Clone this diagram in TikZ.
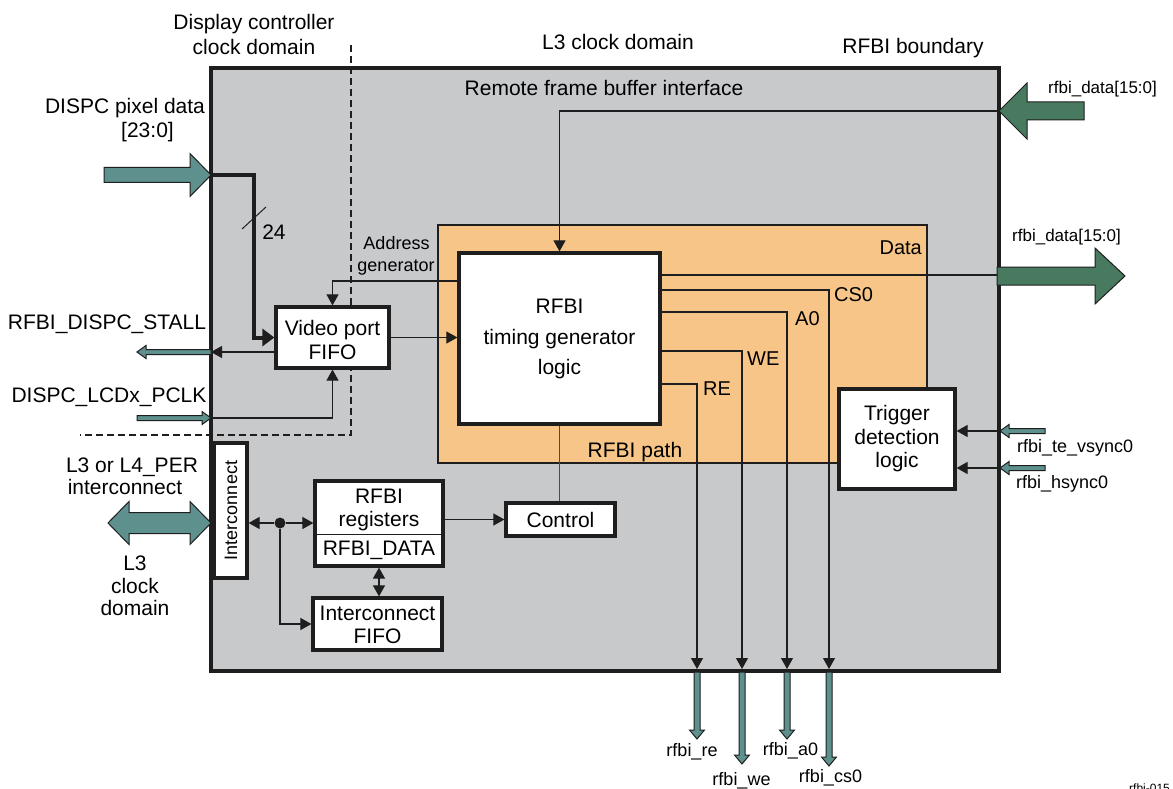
\documentclass[tikz,border=0pt]{standalone}
\usepackage{fontspec}
\setmainfont{Liberation Sans}
\usetikzlibrary{arrows.meta}
\definecolor{bggray}{RGB}{200,201,203}
\definecolor{orng}{RGB}{247,197,135}
\definecolor{tealA}{RGB}{94,145,142}
\definecolor{dgreen}{RGB}{71,122,94}
\definecolor{ink}{RGB}{30,30,30}
% horizontal block arrow: x-start, x-headbase, x-tip, y, shaft half, head half, colour
\newcommand\hArrow[7]{%
 \filldraw[fill=#7, draw=ink, line width=1pt, line join=miter]
   ({#1},{#4-#5}) -- ({#2},{#4-#5}) -- ({#2},{#4-#6}) -- ({#3},{#4}) --
   ({#2},{#4+#6}) -- ({#2},{#4+#5}) -- ({#1},{#4+#5}) -- cycle;}
% vertical block arrow: y-start, y-headbase, y-tip, x, shaft half, head half, colour
\newcommand\vArrow[7]{%
 \filldraw[fill=#7, draw=ink, line width=1pt, line join=miter]
   ({#4-#5},{#1}) -- ({#4-#5},{#2}) -- ({#4-#6},{#2}) -- ({#4},{#3}) --
   ({#4+#6},{#2}) -- ({#4+#5},{#2}) -- ({#4+#5},{#1}) -- cycle;}
\tikzset{
 lab/.style={inner sep=0pt, text height=15pt, text depth=0pt, font=\fontsize{21}{24}\selectfont},
 mid/.style={inner sep=0pt, text height=14.4pt, text depth=0pt, font=\fontsize{20}{23}\selectfont},
 sm/.style={inner sep=0pt, text height=13pt, text depth=0pt, font=\fontsize{18}{21}\selectfont},
 xs/.style={inner sep=0pt, text height=12.2pt, text depth=0pt, font=\fontsize{17}{20}\selectfont},
 box/.style={draw=ink, fill=white, line width=3.2pt, inner sep=0pt},
 conn/.style={draw=ink, line width=1.1pt},
 tri/.style={-{Triangle[length=11pt,width=12pt]}},
 tritri/.style={{Triangle[length=11pt,width=12pt]}-{Triangle[length=11pt,width=12pt]}},
 ctlline/.style={draw=red, line width=1.6pt},
}
\begin{document}
\begin{tikzpicture}[x=1pt,y=-1pt]
\useasboundingbox (0,0) rectangle (1173,789);
\clip (0,0) rectangle (1173,789);
\fill[white] (0,0) rectangle (1173,789);

% boundary and path areas
\node[draw=ink, fill=bggray, line width=3.5pt, minimum width=788pt, minimum height=603pt, inner sep=0pt] (rfbi) at (605,369.5) {};
\node[draw=ink, fill=orng, line width=1.8pt, minimum width=489pt, minimum height=238pt, inner sep=0pt] (opath) at (682.5,344) {};
\draw[ink, line width=1.1pt, dash pattern=on 7pt off 4pt] (351,45) -- (351,435) -- (80,435);

% headings
\node[lab] (t1) at (254,22) {Display controller};
\node[lab] (t2) at (254,47) {clock domain};
\node[lab] (t3) at (618,42) {L3 clock domain};
\node[lab] (t4) at (913,46) {RFBI boundary};
\node[lab] (t5) at (604,88) {Remote frame buffer interface};
\node[mid, anchor=east] (tdata) at (922,247) {Data};
\node[lab] (tpath) at (635,450) {RFBI path};

% boxes
\node[box, minimum width=113pt, minimum height=61pt] (vfifo) at (332.5,337.5) {};
\node[lab] (vf1) at (332.5,328) {Video port};
\node[lab] (vf2) at (332.5,352) {FIFO};

\node[box, minimum width=201pt, minimum height=171pt] (timing) at (559.5,338.5) {};
\node[lab] (tg1) at (559.5,306) {RFBI};
\node[lab] (tg2) at (559.5,337) {timing generator};
\node[lab] (tg3) at (559.5,367) {logic};

\node[box, minimum width=116pt, minimum height=100pt] (trig) at (897,439) {};
\node[lab] (tr1) at (897,413) {Trigger};
\node[lab] (tr2) at (897,436.5) {detection};
\node[lab] (tr3) at (897,460) {logic};

\node[box, minimum width=33pt, minimum height=135pt] (icbox) at (230.5,510.5) {};
\node[sm, rotate=90] (icl) at (230.5,510.5) {Interconnect};

\node[box, minimum width=128pt, minimum height=85pt] (regs) at (379,523.5) {};
\draw[ink, line width=1pt] (315,534) -- (443,534);
\node[lab] (rg1) at (379,496) {RFBI};
\node[lab] (rg2) at (379,519) {registers};
\node[lab] (rg3) at (379,548) {RFBI\_DATA};

\node[box, minimum width=129pt, minimum height=52pt] (icfifo) at (377.5,624) {};
\node[lab] (if1) at (377.5,613) {Interconnect};
\node[lab] (if2) at (377.5,636) {FIFO};

\node[box, minimum width=109pt, minimum height=33pt] (ctrl) at (560.5,519.5) {};
\node[lab] (ctl) at (560.5,519.5) {Control};

% pixel data input
\hArrow{104}{190}{211}{175}{7.5}{21.5}{tealA}
\coordinate (pixin) at (211,175);
\draw[ink, line width=4pt, -{Triangle[length=12pt,width=17pt]}] (pixin) -- (254,175) |- (vfifo.west);
\draw[ink, line width=1pt] (242,229) -- (266,207);
\node[lab] (l24) at (274,232) {24};
\node[lab] (lpix1) at (125,106) {DISPC pixel data};
\node[lab] (lpix2) at (147.5,130) {[23:0]};

% stall output
\coordinate (stallb) at (211,352);
\draw[conn, tri] (vfifo.west |- stallb) -- (stallb);
\hArrow{211}{146}{137}{352}{2.5}{6.5}{tealA}
\node[lab] (lstall) at (107,322) {RFBI\_DISPC\_STALL};

% pixel clock input
\hArrow{137}{202}{211}{418}{2.5}{6.5}{tealA}
\coordinate (pclk) at (211,418);
\draw[conn, tri] (pclk) -| (vfifo.south);
\node[lab] (lpclk) at (109,395) {DISPC\_LCDx\_PCLK};

% address generator
\draw[conn, tri] (timing.west |- 0,281) -| (vfifo.north);
\node[sm] (ad1) at (396.5,243) {Address};
\node[sm] (ad2) at (396,265) {generator};

% fifo to timing
\draw[conn, tri] (vfifo.east) -- (timing.west |- vfifo.east);

% data input
\hArrow{1084}{1027}{999}{111}{9}{28}{dgreen}
\coordinate (din) at (999,111);
\draw[conn, tri] (din) -| (timing.north);
\node[xs, anchor=west] (ldin) at (1048,87) {rfbi\_data[15:0]};

% data output
\coordinate (dout) at (999,275);
\draw[conn] (timing.east |- dout) -- (dout);
\hArrow{997}{1095}{1125}{276}{9}{28}{dgreen}
\node[xs, anchor=west] (ldout) at (1012,235) {rfbi\_data[15:0]};

% control signals
\coordinate (cs0o) at (829,669);
\coordinate (a0o) at (787,669);
\coordinate (weo) at (742,669);
\coordinate (reo) at (697,669);
\draw[conn, tri] (timing.east |- 0,290) -| (cs0o);
\draw[conn, tri] (timing.east |- 0,312) -| (a0o);
\draw[conn, tri] (timing.east |- 0,351) -| (weo);
\draw[conn, tri] (timing.east |- 0,384) -| (reo);
\node[mid, anchor=west] (lcs) at (834,294) {CS0};
\node[mid, anchor=west] (la0) at (795,318) {A0};
\node[mid, anchor=west] (lwe) at (747,358) {WE};
\node[mid, anchor=west] (lre) at (703,388) {RE};

\vArrow{672}{730}{739}{697}{3}{7.5}{tealA}
\vArrow{672}{755}{764}{742}{3}{7.5}{tealA}
\vArrow{672}{730}{739}{787}{3}{7.5}{tealA}
\vArrow{672}{757}{766}{829}{3}{7.5}{tealA}
\node[sm] (lrre) at (692,750) {rfbi\_re};
\node[sm] (lrwe) at (741.5,779) {rfbi\_we};
\node[sm] (lra0) at (790.5,749) {rfbi\_a0};
\node[sm] (lrcs) at (830.5,776) {rfbi\_cs0};

% trigger inputs
\hArrow{1045}{1009}{1000}{431}{2.5}{6.5}{tealA}
\hArrow{1045}{1009}{1000}{468}{2.5}{6.5}{tealA}
\coordinate (vs) at (999,431);
\coordinate (hs) at (999,468);
\draw[conn, tri] (vs) -- (trig.east |- vs);
\draw[conn, tri] (hs) -- (trig.east |- hs);
\node[sm, anchor=west] (lvs) at (1017,446) {rfbi\_te\_vsync0};
\node[sm, anchor=west] (lhs) at (1016,482) {rfbi\_hsync0};

% interconnect side
\filldraw[fill=tealA, draw=ink, line width=1pt, line join=miter]
  (108,523) -- (129,501.5) -- (129,512.5) -- (190,512.5) -- (190,501.5) -- (211,523)
  -- (190,544.5) -- (190,533.5) -- (129,533.5) -- (129,544.5) -- cycle;
\node[lab] (lic1) at (132,465) {L3 or L4\_PER};
\node[lab] (lic2) at (125,487) {interconnect};
\node[lab] (lcd1) at (135,563) {L3};
\node[lab] (lcd2) at (135,586) {clock};
\node[lab] (lcd3) at (135,608) {domain};

\node[circle, fill=ink, inner sep=0pt, minimum size=11pt] (dot) at (280,523) {};
\draw[conn, tri] (dot) -- (icbox.east |- dot);
\draw[conn, tri] (dot) -- (regs.west |- dot);
\draw[conn, tri] (dot) |- (icfifo.west);
\draw[conn, tritri] (regs.south) -- (regs.south |- icfifo.north);
\draw[conn, tri] (ctrl.west -| regs.east) -- (ctrl.west);
\path[ctlline] (timing.south) -- (ctrl.north -| timing.south);

\node[inner sep=0pt, anchor=north west, font=\fontsize{12}{14}\selectfont] (fig) at (1129,784) {rfbi-015};
\end{tikzpicture}
\end{document}
